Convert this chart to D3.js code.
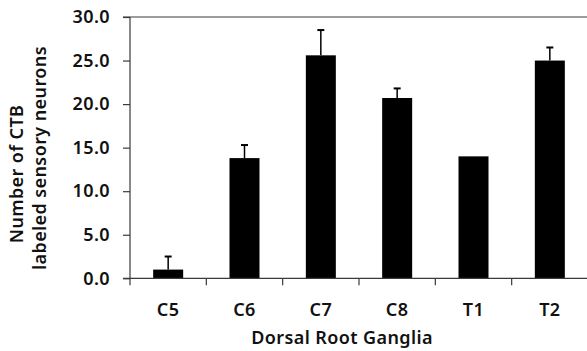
<!DOCTYPE html>
<html><head><meta charset="utf-8">
<script src="https://cdn.jsdelivr.net/npm/d3@7/dist/d3.min.js"></script>
<style>
body{margin:0;background:#fff;}
text{font-family:"Noto Sans",sans-serif;font-weight:600;fill:#111;letter-spacing:0.4px;}
</style></head>
<body><svg id="c" width="587" height="351"></svg>
<script>
const categories = ["C5","C6","C7","C8","T1","T2"];
const values = [1.0, 13.8, 25.6, 20.7, 14.0, 25.0];
const errors = [1.5, 1.5, 2.9, 1.1, 0, 1.5];
const yTicks = [0, 5, 10, 15, 20, 25, 30];
const xTitle = "Dorsal Root Ganglia";
const yTitle = ["Number of CTB", "labeled sensory neurons"];

const svg = d3.select("#c");
const mLeft = 130, mRight = 588, mTop = 17, mBottom = 278.3;
const x = d3.scaleBand().domain(categories).range([mLeft, mRight]).padding(0);
const y = d3.scaleLinear().domain([0, 30]).range([mBottom, mTop]);
const barW = 30;
const axisColor = "#3a3a3a";
const fs = "18px";

// top line
svg.append("line").attr("x1", mLeft - 7).attr("x2", 587).attr("y1", y(30)).attr("y2", y(30))
  .attr("stroke", axisColor).attr("stroke-width", 1.2);

// bars
svg.selectAll("rect.bar").data(categories).join("rect")
  .attr("x", d => x(d) + x.bandwidth()/2 - barW/2)
  .attr("width", barW)
  .attr("y", (d,i) => y(values[i]))
  .attr("height", (d,i) => y(0) - y(values[i]))
  .attr("fill", "#000");

// error bars
const eb = svg.selectAll("g.eb").data(categories.map((c,i)=>({c, v: values[i], e: errors[i]})).filter(d=>d.e>0)).join("g");
eb.append("line").attr("x1", d=>x(d.c)+x.bandwidth()/2).attr("x2", d=>x(d.c)+x.bandwidth()/2)
  .attr("y1", d=>y(d.v)).attr("y2", d=>y(d.v+d.e)).attr("stroke","#000").attr("stroke-width",1.5);
eb.append("line").attr("x1", d=>x(d.c)+x.bandwidth()/2-3.5).attr("x2", d=>x(d.c)+x.bandwidth()/2+3.5)
  .attr("y1", d=>y(d.v+d.e)).attr("y2", d=>y(d.v+d.e)).attr("stroke","#000").attr("stroke-width",2);

function styleText(sel){
  sel.style("font-size",fs).style("font-family","'Noto Sans',sans-serif").style("font-weight","600").style("letter-spacing","0.4px").attr("fill","#111");
}

// y axis
const ya = svg.append("g").attr("transform", `translate(${mLeft},0)`)
  .call(d3.axisLeft(y).tickValues(yTicks).tickSize(7).tickPadding(13).tickFormat(d3.format(".1f")));
ya.select(".domain").remove();
ya.selectAll(".tick line").attr("stroke", axisColor).attr("stroke-width", 1.2);
styleText(ya.selectAll(".tick text"));
svg.append("line").attr("x1", mLeft).attr("x2", mLeft).attr("y1", y(30)).attr("y2", mBottom + 7)
  .attr("stroke", axisColor).attr("stroke-width", 1.2);

// x axis
svg.append("line").attr("x1", mLeft - 7).attr("x2", 587).attr("y1", mBottom).attr("y2", mBottom)
  .attr("stroke", axisColor).attr("stroke-width", 1.2);
svg.selectAll("line.xt").data(categories.slice(1)).join("line")
  .attr("x1", d=>x(d)).attr("x2", d=>x(d)).attr("y1", mBottom).attr("y2", mBottom+7)
  .attr("stroke", axisColor).attr("stroke-width", 1.2);
const xa = svg.append("g").attr("transform", `translate(0,${mBottom})`)
  .call(d3.axisBottom(x).tickSize(0).tickPadding(25));
xa.select(".domain").remove();
styleText(xa.selectAll(".tick text"));

// titles
styleText(svg.append("text").attr("x", 342).attr("y", 344).attr("text-anchor","middle").text(xTitle));
styleText(svg.append("text").attr("transform","translate(23,174) rotate(-90)").attr("text-anchor","middle").text(yTitle[0]));
styleText(svg.append("text").attr("transform","translate(46,158) rotate(-90)").attr("text-anchor","middle").text(yTitle[1]));
</script></body></html>
